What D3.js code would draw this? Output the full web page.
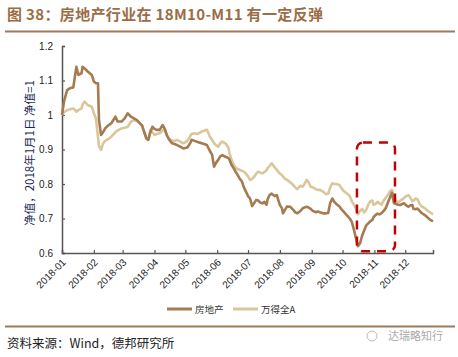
<!DOCTYPE html>
<html><head><meta charset="utf-8">
<script src="https://cdn.jsdelivr.net/npm/d3@7"></script>
<style>
html,body{margin:0;padding:0;background:#fff;}
svg{display:block;}
</style></head>
<body>
<svg id="chart" width="458" height="357"></svg>
<script>
const titleText = "图 38：房地产行业在 18M10-M11 有一定反弹";
const sourceText = "资料来源：Wind，德邦研究所";
const watermarkText = "达瑞略知行";
const yAxisLabel = "净值，2018年1月1日 净值=1";
const seriesNames = ["房地产", "万得全A"];
const yTicks = [0.6, 0.7, 0.8, 0.9, 1.0, 1.1, 1.2];
const yTickLabels = ["0.6", "0.7", "0.8", "0.9", "1", "1.1", "1.2"];
const xTickDates = ["2018-01-01","2018-02-01","2018-03-01","2018-04-01","2018-05-01","2018-06-01","2018-07-01","2018-08-01","2018-09-01","2018-10-01","2018-11-01","2018-12-01"];
const xTickLabels = ["2018-01","2018-02","2018-03","2018-04","2018-05","2018-06","2018-07","2018-08","2018-09","2018-10","2018-11","2018-12"];
const highlightStart = "2018-10-15";
const highlightEnd = "2018-11-21";
const highlightTop = 0.92;
const highlightBottom = 0.605;

const dates = [
"2018-01-01","2018-01-03","2018-01-06","2018-01-09","2018-01-12","2018-01-15","2018-01-17","2018-01-20","2018-01-21","2018-01-23",
"2018-01-26","2018-01-30","2018-02-01","2018-02-03","2018-02-05","2018-02-06","2018-02-08","2018-02-10","2018-02-12","2018-02-15",
"2018-02-18","2018-02-22","2018-02-24","2018-02-28","2018-03-03","2018-03-06","2018-03-09","2018-03-12","2018-03-15","2018-03-18",
"2018-03-20","2018-03-22","2018-03-24","2018-03-26","2018-03-28","2018-03-30","2018-04-01","2018-04-03","2018-04-06","2018-04-09",
"2018-04-11","2018-04-13","2018-04-15","2018-04-18","2018-04-21","2018-04-23","2018-04-26","2018-04-29","2018-05-03","2018-05-06",
"2018-05-07","2018-05-10","2018-05-13","2018-05-17","2018-05-20","2018-05-22","2018-05-25","2018-05-27","2018-05-29","2018-05-31",
"2018-06-02","2018-06-04","2018-06-06","2018-06-09","2018-06-12","2018-06-13","2018-06-15","2018-06-17","2018-06-19","2018-06-21",
"2018-06-23","2018-06-25","2018-06-27","2018-06-29","2018-07-01","2018-07-03","2018-07-05","2018-07-07","2018-07-09","2018-07-11",
"2018-07-13","2018-07-15","2018-07-17","2018-07-19","2018-07-20","2018-07-22","2018-07-24","2018-07-27","2018-07-29","2018-08-01",
"2018-08-03","2018-08-04","2018-08-06","2018-08-08","2018-08-11","2018-08-14","2018-08-16","2018-08-18","2018-08-21","2018-08-23",
"2018-08-25","2018-08-27","2018-08-29","2018-08-31","2018-09-02","2018-09-05","2018-09-07","2018-09-09","2018-09-12","2018-09-15",
"2018-09-17","2018-09-19","2018-09-21","2018-09-23","2018-09-25","2018-09-28","2018-09-29","2018-10-02","2018-10-05","2018-10-08",
"2018-10-10","2018-10-12","2018-10-14","2018-10-16","2018-10-18","2018-10-20","2018-10-22","2018-10-24","2018-10-26","2018-10-28",
"2018-10-30","2018-10-31","2018-11-02","2018-11-04","2018-11-06","2018-11-08","2018-11-10","2018-11-12","2018-11-14","2018-11-16",
"2018-11-18","2018-11-20","2018-11-22","2018-11-24","2018-11-26","2018-11-28","2018-11-30","2018-12-02","2018-12-04","2018-12-06",
"2018-12-08","2018-12-09","2018-12-11","2018-12-13","2018-12-15","2018-12-17","2018-12-20","2018-12-23","2018-12-25","2018-12-28"
];

const realEstate = [
1.000,1.040,1.072,1.078,1.080,1.140,1.116,1.121,1.140,1.135,
1.126,1.116,1.097,1.092,1.092,0.985,0.942,0.950,0.961,0.970,
0.976,0.995,0.981,0.981,0.990,1.005,0.995,0.990,0.985,0.975,
0.970,0.950,0.932,0.928,0.950,0.966,0.960,0.957,0.957,0.971,
0.960,0.942,0.930,0.918,0.915,0.913,0.908,0.903,0.906,0.920,
0.928,0.925,0.922,0.918,0.915,0.913,0.895,0.885,0.850,0.862,
0.870,0.880,0.884,0.879,0.875,0.870,0.855,0.846,0.835,0.826,
0.815,0.808,0.790,0.778,0.765,0.758,0.736,0.745,0.754,0.752,
0.746,0.744,0.748,0.740,0.755,0.768,0.772,0.765,0.768,0.739,
0.730,0.715,0.725,0.735,0.734,0.725,0.718,0.715,0.722,0.729,
0.732,0.734,0.732,0.728,0.722,0.718,0.720,0.718,0.715,0.715,
0.716,0.745,0.758,0.748,0.742,0.735,0.730,0.720,0.710,0.700,
0.690,0.668,0.643,0.620,0.628,0.650,0.665,0.680,0.686,0.692,
0.696,0.703,0.710,0.714,0.712,0.716,0.722,0.730,0.745,0.760,
0.775,0.745,0.742,0.740,0.739,0.742,0.744,0.738,0.734,0.738,
0.739,0.728,0.727,0.729,0.722,0.716,0.710,0.702,0.697,0.692
];

const windA = [
1.000,1.008,1.014,1.017,1.019,1.010,1.014,1.019,1.030,1.039,
1.029,1.024,1.005,0.990,0.937,0.910,0.899,0.918,0.925,0.930,
0.937,0.950,0.955,0.961,0.963,0.966,0.980,0.985,0.983,0.976,
0.965,0.952,0.935,0.928,0.957,0.950,0.942,0.945,0.947,0.955,
0.957,0.940,0.932,0.925,0.925,0.928,0.923,0.918,0.925,0.940,
0.945,0.947,0.945,0.952,0.955,0.957,0.937,0.928,0.918,0.912,
0.908,0.918,0.923,0.918,0.905,0.889,0.870,0.855,0.848,0.843,
0.841,0.838,0.836,0.830,0.822,0.812,0.815,0.821,0.830,0.836,
0.833,0.831,0.835,0.840,0.846,0.852,0.860,0.848,0.841,0.830,
0.826,0.822,0.815,0.812,0.805,0.797,0.790,0.785,0.795,0.792,
0.800,0.812,0.805,0.792,0.790,0.785,0.783,0.783,0.778,0.770,
0.772,0.790,0.802,0.800,0.800,0.797,0.792,0.780,0.773,0.765,
0.750,0.740,0.728,0.712,0.722,0.728,0.718,0.725,0.740,0.750,
0.752,0.740,0.742,0.748,0.744,0.740,0.752,0.760,0.768,0.778,
0.783,0.760,0.752,0.745,0.752,0.755,0.760,0.765,0.768,0.760,
0.750,0.752,0.758,0.755,0.742,0.735,0.730,0.722,0.718,0.712
];

const colors = ["#a57b51", "#dac69b"];

const svg = d3.select("#chart");
const parse = d3.timeParse("%Y-%m-%d");
const x = d3.scaleTime().domain([parse("2018-01-01"), parse("2018-12-28")]).range([62, 433]);
const y = d3.scaleLinear().domain([0.6, 1.2]).range([253, 46]);

// title
svg.append("text").attr("x", 7).attr("y", 20).text(titleText)
  .attr("font-family", "'Noto Sans CJK SC', sans-serif").attr("font-weight", "bold")
  .attr("font-size", 15).attr("fill", "#9b6d46").attr("textLength", 316).attr("lengthAdjust", "spacing");
svg.append("line").attr("x1", 5).attr("x2", 455).attr("y1", 31.5).attr("y2", 31.5)
  .attr("stroke", "#a07a5b").attr("stroke-width", 2);

// axes
const yAxis = d3.axisLeft(y).tickValues(yTicks).tickFormat((d, i) => yTickLabels[i]).tickSize(-3).tickPadding(9);
const gy = svg.append("g").attr("transform", "translate(62,0)").call(yAxis);
const xAxis = d3.axisBottom(x).tickValues(xTickDates.map(parse)).tickFormat((d, i) => xTickLabels[i]).tickSize(-3);
const gx = svg.append("g").attr("transform", "translate(0,253)").call(xAxis);
[gx, gy].forEach(g => {
  g.select(".domain").attr("stroke", "#555").attr("stroke-width", 1.5);
  g.selectAll(".tick line").attr("stroke", "#555").attr("stroke-width", 1.2);
  g.selectAll("text").attr("font-family", "'Liberation Sans', Arial, sans-serif").attr("font-size", 10).attr("fill", "#222");
});
gx.selectAll(".tick text").attr("text-anchor", "end").attr("dy", null).attr("y", 0)
  .attr("transform", "translate(4,10) rotate(-45)");

// y axis label
svg.append("text").attr("transform", "translate(34,153) rotate(-90)").attr("text-anchor", "middle")
  .attr("font-family", "'Noto Sans CJK SC', sans-serif").attr("font-size", 11.5).attr("fill", "#1d2a55")
  .text(yAxisLabel);

// lines
const rows = dates.map((d, i) => ({ date: parse(d), v: [realEstate[i], windA[i]] }));
const line = k => d3.line().x(d => x(d.date)).y(d => y(d.v[k]));
[1, 0].forEach(k => {
  svg.append("path").datum(rows).attr("d", line(k)).attr("fill", "none")
    .attr("stroke", colors[k]).attr("stroke-width", 2.6).attr("stroke-linejoin", "round");
});

// highlight box
const hx0 = x(parse(highlightStart)), hx1 = x(parse(highlightEnd));
svg.append("rect").attr("x", hx0).attr("y", y(highlightTop)).attr("width", hx1 - hx0)
  .attr("height", y(highlightBottom) - y(highlightTop)).attr("rx", 6).attr("ry", 6)
  .attr("fill", "none").attr("stroke", "#c40000").attr("stroke-width", 2.5).attr("stroke-dasharray", "9,7");

// legend
const legend = svg.append("g");
const legX = [167, 233];
seriesNames.forEach((name, i) => {
  legend.append("line").attr("x1", legX[i]).attr("x2", legX[i] + 25).attr("y1", 309).attr("y2", 309)
    .attr("stroke", colors[i]).attr("stroke-width", 3);
  legend.append("text").attr("x", legX[i] + 28).attr("y", 312.5).text(name)
    .attr("font-family", "'Noto Sans CJK SC', sans-serif").attr("font-size", 9.5).attr("fill", "#333");
});

// footer
svg.append("line").attr("x1", 5).attr("x2", 455).attr("y1", 326.5).attr("y2", 326.5)
  .attr("stroke", "#a07a5b").attr("stroke-width", 2);
svg.append("text").attr("x", 7).attr("y", 348).text(sourceText)
  .attr("font-family", "'Noto Sans CJK SC', sans-serif").attr("font-size", 12.5).attr("fill", "#222");
svg.append("circle").attr("cx", 372).attr("cy", 336).attr("r", 5).attr("fill", "none").attr("stroke", "#bbb").attr("stroke-width", 1);
svg.append("text").attr("x", 388).attr("y", 340).text(watermarkText)
  .attr("font-family", "'Noto Sans CJK SC', sans-serif").attr("font-size", 11).attr("fill", "#aaa");
</script>
</body></html>
